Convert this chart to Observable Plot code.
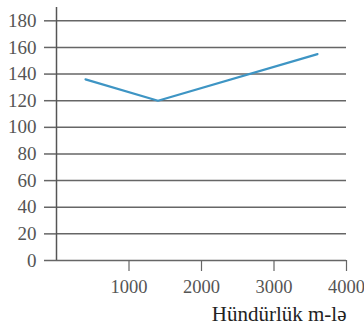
<!DOCTYPE html>
<html><head><meta charset="utf-8">
<script src="https://cdn.jsdelivr.net/npm/d3@7"></script>
<script src="https://cdn.jsdelivr.net/npm/@observablehq/plot@0.6"></script>
<style>body{margin:0;background:#fff;} svg{display:block;} svg text{font-family:'Liberation Serif','Times New Roman',serif !important;}</style>
</head><body><div id="chart"></div>
<script>
const altitude = [400, 1400, 3600];
const values = [136, 120, 155];
const yTicks = [0, 20, 40, 60, 80, 100, 120, 140, 160, 180];
const xTicks = [1000, 2000, 3000, 4000];
const xLabel = "Hündürlük m-lə";

const data = altitude.map((a, i) => ({a, v: values[i]}));

const chart = Plot.plot({
  width: 364, height: 330,
  marginTop: 7, marginBottom: 70, marginLeft: 56, marginRight: 18,
  style: {background: "#fff"},
  x: {domain: [0, 4000]},
  y: {domain: [0, 190]},
  marks: [
    Plot.gridY(yTicks, {stroke: "#666", strokeOpacity: 1, strokeWidth: 1.5}),
    Plot.ruleX([0], {stroke: "#555", strokeWidth: 1.5}),
    Plot.axisY({ticks: yTicks, tickSize: 12, tickPadding: 8, stroke: "#666", strokeWidth: 1.5, fill: "#555", fontSize: 19, label: null}),
    Plot.axisX({ticks: xTicks, tickFormat: d3.format("d"), tickSize: 11, tickPadding: 8, stroke: "#666", strokeWidth: 1.2, fill: "#555", fontSize: 18.5, label: null}),
    Plot.line(data, {x: "a", y: "v", stroke: "#3e95c4", strokeWidth: 2.2}),
    Plot.text([xLabel], {frameAnchor: "bottom-right", text: d => d, dy: 60, textAnchor: "end", fontSize: 21, fill: "#222"})
  ]
});
document.getElementById("chart").appendChild(chart);
</script></body></html>
